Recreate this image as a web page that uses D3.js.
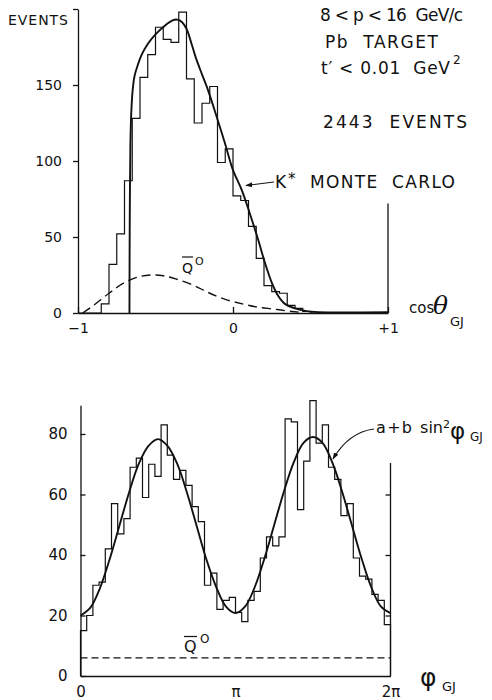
<!DOCTYPE html>
<html lang="en">
<head>
<meta charset="UTF-8">
<title>K* decay angular distributions</title>
<script src="https://cdnjs.cloudflare.com/ajax/libs/d3/7.8.5/d3.min.js"></script>
<style>
  html, body { margin: 0; padding: 0; background: #fff; }
  svg { display: block; font-family: "DejaVu Sans", sans-serif; }
  text { fill: #111; white-space: pre; }
  .axis path, .axis line { stroke: #111; stroke-width: 1.3; }
  .axis text { font-family: "DejaVu Sans", sans-serif; fill: #111; }
</style>
</head>
<body>
<svg id="chart" width="492" height="700"></svg>
<script>
// top panel: cos(theta_GJ), 40 bins of width 0.05 starting at -1
const cosBinStart = -1;
const cosBinWidth = 0.05;
const cosCounts = [0, 0, 0, 6, 32, 52, 87, 128, 155, 170,
                   188, 180, 178, 198, 154, 125, 138, 149, 99, 108,
                   77, 74, 57, 36, 18, 14, 13, 5, 3, 1,
                   0, 0, 0, 0, 0, 0, 0, 0, 0, 0];
// K* Monte Carlo curve
const kstarCurve = [[-0.668, 0], [-0.667, 40], [-0.665, 80], [-0.662, 110], [-0.657, 130],
                    [-0.648, 146], [-0.635, 156], [-0.615, 163], [-0.589, 170], [-0.55, 177],
                    [-0.503, 183], [-0.44, 189], [-0.39, 192.5], [-0.36, 193], [-0.33, 191.5],
                    [-0.30, 187], [-0.27, 178], [-0.24, 168], [-0.2, 157], [-0.159, 146],
                    [-0.105, 129], [-0.05, 111], [0.0, 94], [0.056, 81], [0.11, 65],
                    [0.163, 48], [0.206, 33], [0.25, 20], [0.29, 11.5], [0.335, 6],
                    [0.4, 3], [0.475, 1.2], [0.55, 0.6], [1.0, 0.6]];
// Qbar0 background (dashed)
const qbarCosCurve = [[-0.97, 0], [-0.9, 5], [-0.8, 13], [-0.7, 20], [-0.6, 24], [-0.52, 25],
                      [-0.45, 24.5], [-0.37, 22.5], [-0.25, 18], [-0.16, 13.5], [-0.05, 9],
                      [0.06, 6], [0.15, 4], [0.27, 2.5], [0.38, 1], [0.45, 0.4]];
const cosYTicks = [0, 50, 100, 150, 200];
const cosYLabels = ["0", "50", "100", "150", ""];
const cosXTicks = [-1, 0, 1];
const cosXLabels = ["\u22121", "0", "+1"];

// bottom panel: phi_GJ (in units of pi), 50 bins over 0..2pi
const phiBinStart = 0;
const phiBinWidth = 0.04;
const phiCounts = [15, 20, 30, 31, 42, 57, 47, 52, 69, 72,
                   59, 70, 66, 83, 73, 65, 68, 63, 56, 51,
                   30, 34, 22, 25, 26, 21, 18, 25, 28, 39,
                   46, 43, 46, 85, 84, 55, 71, 91, 77, 83,
                   69, 65, 53, 57, 39, 33, 32, 27, 25, 17];
// a + b sin^2 phi fit
const phiFit = [[0, 20], [0.0625, 22.5], [0.125, 29], [0.1875, 38.5], [0.25, 49.5], [0.3125, 60.5],
                [0.375, 70], [0.4375, 76], [0.5, 78.3], [0.5625, 76], [0.625, 70], [0.6875, 60.5],
                [0.75, 49.5], [0.8125, 38.5], [0.875, 29.5], [0.9375, 23], [1, 20.8], [1.0625, 23],
                [1.125, 29.5], [1.1875, 39], [1.25, 50], [1.3125, 61], [1.375, 70.5], [1.4375, 77],
                [1.5, 79], [1.5625, 77], [1.625, 70.5], [1.6875, 61], [1.75, 50], [1.8125, 39],
                [1.875, 29.5], [1.9375, 23], [2, 20.8]];
const qbarPhiLevel = 6;
const phiYTicks = [0, 20, 40, 60, 80];
const phiRightTicks = [20, 40, 60];
const phiXTicks = [0, 1, 2];
const phiXLabels = ["0", "\u03c0", "2\u03c0"];

const svg = d3.select("#chart");
const ink = "#111";

svg.append("defs").append("marker")
    .attr("id", "arrow")
    .attr("viewBox", "0 0 10 10")
    .attr("refX", 9).attr("refY", 5)
    .attr("markerWidth", 7).attr("markerHeight", 7)
    .attr("markerUnits", "userSpaceOnUse")
    .attr("orient", "auto")
    .append("path")
    .attr("d", "M0,1.5L10,5L0,8.5Z")
    .attr("fill", ink);

// turn bin counts into a closed step outline
function stepPoints(counts, start, width) {
    const pts = [[start, 0]];
    counts.forEach((c, i) => {
        pts.push([start + i * width, c]);
        pts.push([start + (i + 1) * width, c]);
    });
    pts.push([start + counts.length * width, 0]);
    return pts;
}

// ---------- top panel ----------
const xTop = d3.scaleLinear().domain([-1, 1]).range([78, 388]);
const yTop = d3.scaleLinear().domain([0, 200]).range([313, 9]);
const topPanel = svg.append("g");

topPanel.append("path")
    .datum(stepPoints(cosCounts, cosBinStart, cosBinWidth))
    .attr("d", d3.line().x(d => xTop(d[0])).y(d => yTop(d[1])))
    .attr("fill", "none").attr("stroke", ink).attr("stroke-width", 1.2);

topPanel.append("path")
    .datum(kstarCurve)
    .attr("d", d3.line().x(d => xTop(d[0])).y(d => yTop(d[1])).curve(d3.curveCatmullRom.alpha(0.5)))
    .attr("fill", "none").attr("stroke", ink).attr("stroke-width", 1.9);

topPanel.append("path")
    .datum(qbarCosCurve)
    .attr("d", d3.line().x(d => xTop(d[0])).y(d => yTop(d[1])).curve(d3.curveCatmullRom.alpha(0.5)))
    .attr("fill", "none").attr("stroke", ink).attr("stroke-width", 1.4)
    .attr("stroke-dasharray", "9,5");

topPanel.append("g").attr("class", "axis")
    .attr("transform", `translate(${xTop(-1)},0)`)
    .call(d3.axisLeft(yTop).tickValues(cosYTicks).tickSizeInner(5).tickSizeOuter(0).tickPadding(11)
        .tickFormat((d, i) => cosYLabels[i]))
    .selectAll("text").attr("font-size", 14);

topPanel.append("g").attr("class", "axis")
    .attr("transform", `translate(0,${yTop(0)})`)
    .call(d3.axisBottom(xTop).tickValues(cosXTicks).tickSizeInner(-6).tickSizeOuter(0).tickPadding(10)
        .tickFormat((d, i) => cosXLabels[i]))
    .selectAll("text").attr("font-size", 14);

topPanel.append("line")
    .attr("x1", xTop(1)).attr("x2", xTop(1))
    .attr("y1", yTop(72)).attr("y2", yTop(0))
    .attr("stroke", ink).attr("stroke-width", 1.3);

topPanel.append("text").attr("x", 8).attr("y", 25).attr("font-size", 14)
    .attr("textLength", 60).attr("lengthAdjust", "spacing").text("EVENTS");

const info = [
    { t: "8 < p < 16  GeV/c", x: 320, y: 21, w: 143 },
    { t: "Pb  TARGET", x: 325, y: 48, w: 113 },
    { t: "t\u2032 < 0.01  GeV", x: 321, y: 74, w: 129 },
    { t: "2443  EVENTS", x: 323, y: 128, w: 144 },
    { t: "MONTE  CARLO", x: 310, y: 188, w: 145 }
];
topPanel.selectAll("text.info").data(info).join("text")
    .attr("class", "info")
    .attr("x", d => d.x).attr("y", d => d.y)
    .attr("font-size", 17)
    .attr("textLength", d => d.w).attr("lengthAdjust", "spacing")
    .text(d => d.t);
topPanel.append("text").attr("x", 453).attr("y", 64).attr("font-size", 12).text("2");
topPanel.append("text").attr("x", 275).attr("y", 188).attr("font-size", 17).text("K");
topPanel.append("text").attr("x", 288).attr("y", 184).attr("font-size", 15).text("*");

topPanel.append("line")
    .attr("x1", 274).attr("y1", 182).attr("x2", 246).attr("y2", 185.5)
    .attr("stroke", ink).attr("stroke-width", 1.1)
    .attr("marker-end", "url(#arrow)");

// Qbar0 label
topPanel.append("text").attr("x", 182).attr("y", 273).attr("font-size", 14).text("Q");
topPanel.append("line").attr("x1", 182).attr("x2", 193).attr("y1", 257).attr("y2", 257)
    .attr("stroke", ink).attr("stroke-width", 1.2);
topPanel.append("text").attr("x", 195).attr("y", 265).attr("font-size", 11).text("O");

// axis title
topPanel.append("text").attr("x", 409).attr("y", 313).attr("font-size", 15).text("cos");
topPanel.append("text").attr("x", 433).attr("y", 314).attr("font-size", 25)
    .attr("font-family", "DejaVu Serif").attr("font-style", "italic").text("\u03b8");
topPanel.append("text").attr("x", 450).attr("y", 326).attr("font-size", 13).text("GJ");

// ---------- bottom panel ----------
const xBot = d3.scaleLinear().domain([0, 2]).range([80.5, 390.5]);
const yBot = d3.scaleLinear().domain([0, 89.5]).range([676, 405.25]);
const botPanel = svg.append("g");

botPanel.append("path")
    .datum(stepPoints(phiCounts, phiBinStart, phiBinWidth))
    .attr("d", d3.line().x(d => xBot(d[0])).y(d => yBot(d[1])))
    .attr("fill", "none").attr("stroke", ink).attr("stroke-width", 1.2);

botPanel.append("path")
    .datum(phiFit)
    .attr("d", d3.line().x(d => xBot(d[0])).y(d => yBot(d[1])).curve(d3.curveCatmullRom.alpha(0.5)))
    .attr("fill", "none").attr("stroke", ink).attr("stroke-width", 1.9);

botPanel.append("line")
    .attr("x1", xBot(0)).attr("x2", xBot(2))
    .attr("y1", yBot(qbarPhiLevel)).attr("y2", yBot(qbarPhiLevel))
    .attr("stroke", ink).attr("stroke-width", 1.4).attr("stroke-dasharray", "7,4");

botPanel.append("g").attr("class", "axis")
    .attr("transform", `translate(${xBot(0)},0)`)
    .call(d3.axisLeft(yBot).tickValues(phiYTicks).tickSizeInner(-5).tickSizeOuter(0).tickPadding(13))
    .selectAll("text").attr("font-size", 15);

botPanel.append("g").attr("class", "axis")
    .attr("transform", `translate(0,${yBot(0)})`)
    .call(d3.axisBottom(xBot).tickValues(phiXTicks).tickSize(0).tickPadding(10)
        .tickFormat((d, i) => phiXLabels[i]))
    .selectAll("text").attr("font-size", 15);

const rightAxis = botPanel.append("g").attr("class", "axis")
    .attr("transform", `translate(${xBot(2)},0)`)
    .call(d3.axisRight(yBot).tickValues(phiRightTicks).tickSizeInner(-5).tickSizeOuter(0).tickFormat(""));
rightAxis.select(".domain").attr("d", `M0,${yBot(70.4)}V${yBot(0)}`);

// Qbar0 label
botPanel.append("text").attr("x", 184).attr("y", 652).attr("font-size", 16).text("Q");
botPanel.append("line").attr("x1", 184).attr("x2", 197).attr("y1", 636.5).attr("y2", 636.5)
    .attr("stroke", ink).attr("stroke-width", 1.2);
botPanel.append("text").attr("x", 200).attr("y", 643).attr("font-size", 12).text("O");

// fit annotation
botPanel.append("text").attr("x", 376).attr("y", 433).attr("font-size", 16)
    .attr("textLength", 36).attr("lengthAdjust", "spacing").text("a+b");
botPanel.append("text").attr("x", 420).attr("y", 433).attr("font-size", 16)
    .attr("textLength", 23).attr("lengthAdjust", "spacing").text("sin");
botPanel.append("text").attr("x", 443).attr("y", 428).attr("font-size", 11).text("2");
botPanel.append("text").attr("x", 450).attr("y", 439).attr("font-size", 23).text("\u03c6");
botPanel.append("text").attr("x", 470).attr("y", 441).attr("font-size", 12).text("GJ");
botPanel.append("path")
    .attr("d", "M374,429Q349,432 333,459")
    .attr("fill", "none").attr("stroke", ink).attr("stroke-width", 1.1)
    .attr("marker-end", "url(#arrow)");

// axis title
botPanel.append("text").attr("x", 420).attr("y", 686).attr("font-size", 25).text("\u03c6");
botPanel.append("text").attr("x", 442).attr("y", 691).attr("font-size", 13).text("GJ");
</script>
</body>
</html>
